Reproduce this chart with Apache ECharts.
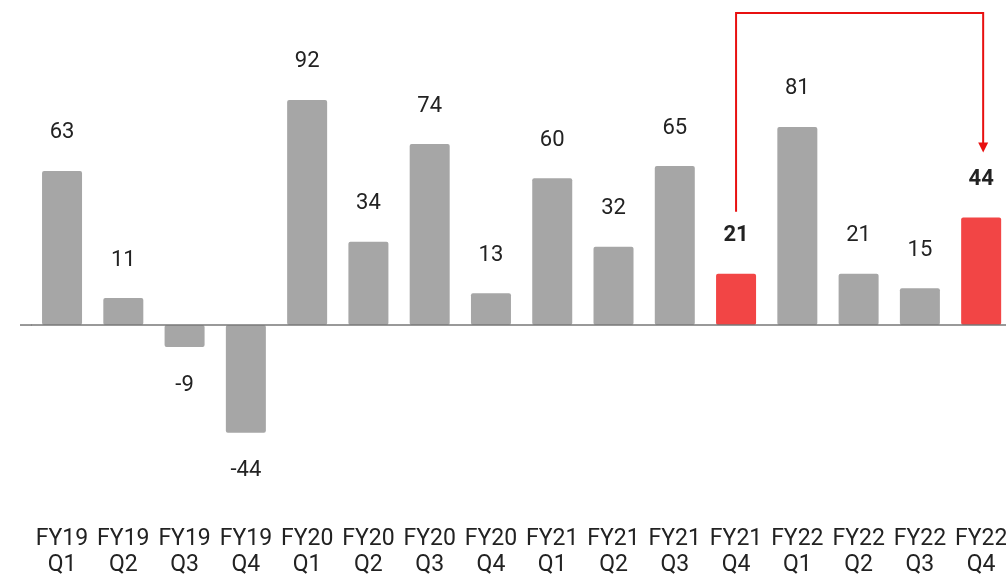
<!DOCTYPE html>
<html>
<head>
<meta charset="utf-8">
<script src="https://cdn.jsdelivr.net/npm/echarts@6/dist/echarts.min.js"></script>
<style>
  html, body { margin: 0; padding: 0; background: #fff; }
  #mychart { width: 1006px; height: 576px; }
</style>
</head>
<body>
<div id="mychart"></div>
<script>
// 季度标签
const categories = ['FY19 Q1', 'FY19 Q2', 'FY19 Q3', 'FY19 Q4', 'FY20 Q1', 'FY20 Q2', 'FY20 Q3', 'FY20 Q4',
  'FY21 Q1', 'FY21 Q2', 'FY21 Q3', 'FY21 Q4', 'FY22 Q1', 'FY22 Q2', 'FY22 Q3', 'FY22 Q4'];
const values = [63, 11, -9, -44, 92, 34, 74, 13, 60, 32, 65, 21, 81, 21, 15, 44];
// 高亮的季度
const highlighted = ['FY21 Q4', 'FY22 Q4'];
const arrowFrom = 'FY21 Q4';
const arrowTo = 'FY22 Q4';

const GREY = '#a6a6a6';
const RED = '#f24545';

const seriesData = values.map((v, i) => {
  const hot = highlighted.includes(categories[i]);
  return {
    value: v,
    itemStyle: { color: hot ? RED : GREY },
    label: {
      position: v < 0 ? 'bottom' : 'top',
      fontWeight: hot ? 'bold' : 'normal'
    }
  };
});

const option = {
  animation: false,
  grid: { left: 31.4, width: 980.4, top: 31.5, height: 489.2, outerBoundsMode: 'none', containLabel: false },
  xAxis: {
    type: 'category',
    data: categories,
    axisLine: { show: false },
    axisTick: { show: false },
    axisLabel: {
      interval: 0,
      margin: 6,
      color: '#222',
      fontSize: 23,
      lineHeight: 26,
      fontFamily: 'Roboto',
      formatter: (s) => s.replace(' ', '\n')
    }
  },
  yAxis: {
    type: 'value',
    min: -80,
    max: 120,
    show: false,
    splitLine: { show: false }
  },
  series: [{
    type: 'bar',
    barWidth: 40,
    data: seriesData,
    itemStyle: { borderRadius: 2 },
    label: {
      show: true,
      distance: 27,
      color: '#222',
      fontSize: 22,
      fontFamily: 'Roboto'
    },
    markLine: {
      silent: true,
      symbol: 'none',
      label: { show: false },
      lineStyle: { color: '#777', width: 1.5, type: 'solid' },
      data: [{ yAxis: 0 }]
    }
  }]
};

const myChart = echarts.init(document.getElementById('mychart'));
myChart.setOption(option);

// 红色箭头
const iFrom = categories.indexOf(arrowFrom);
const iTo = categories.indexOf(arrowTo);
const p1 = myChart.convertToPixel({ seriesIndex: 0 }, [iFrom, values[iFrom]]);
const p2 = myChart.convertToPixel({ seriesIndex: 0 }, [iTo, values[iTo]]);
const p0 = myChart.convertToPixel({ seriesIndex: 0 }, [0, 0]);
const topY = 13;
const startY = p1[1] - 62;
const tipY = p2[1] - 65;
const x2 = p2[0] + 2;
myChart.setOption({
  graphic: [
    {
      // 零线向左延伸
      type: 'line',
      shape: { x1: 20, y1: p0[1], x2: p0[0] - 30, y2: p0[1] },
      style: { stroke: '#777', lineWidth: 1.5 }
    },
    {
      type: 'polyline',
      shape: { points: [[p1[0], startY], [p1[0], topY], [x2, topY], [x2, tipY - 8]] },
      style: { stroke: '#e81010', lineWidth: 2, fill: null }
    },
    {
      type: 'polygon',
      shape: { points: [[x2 - 5, tipY - 10], [x2 + 5, tipY - 10], [x2, tipY]] },
      style: { fill: '#e81010' }
    }
  ]
});

window.addEventListener('resize', () => {
  myChart.resize();
});
</script>
</body>
</html>
